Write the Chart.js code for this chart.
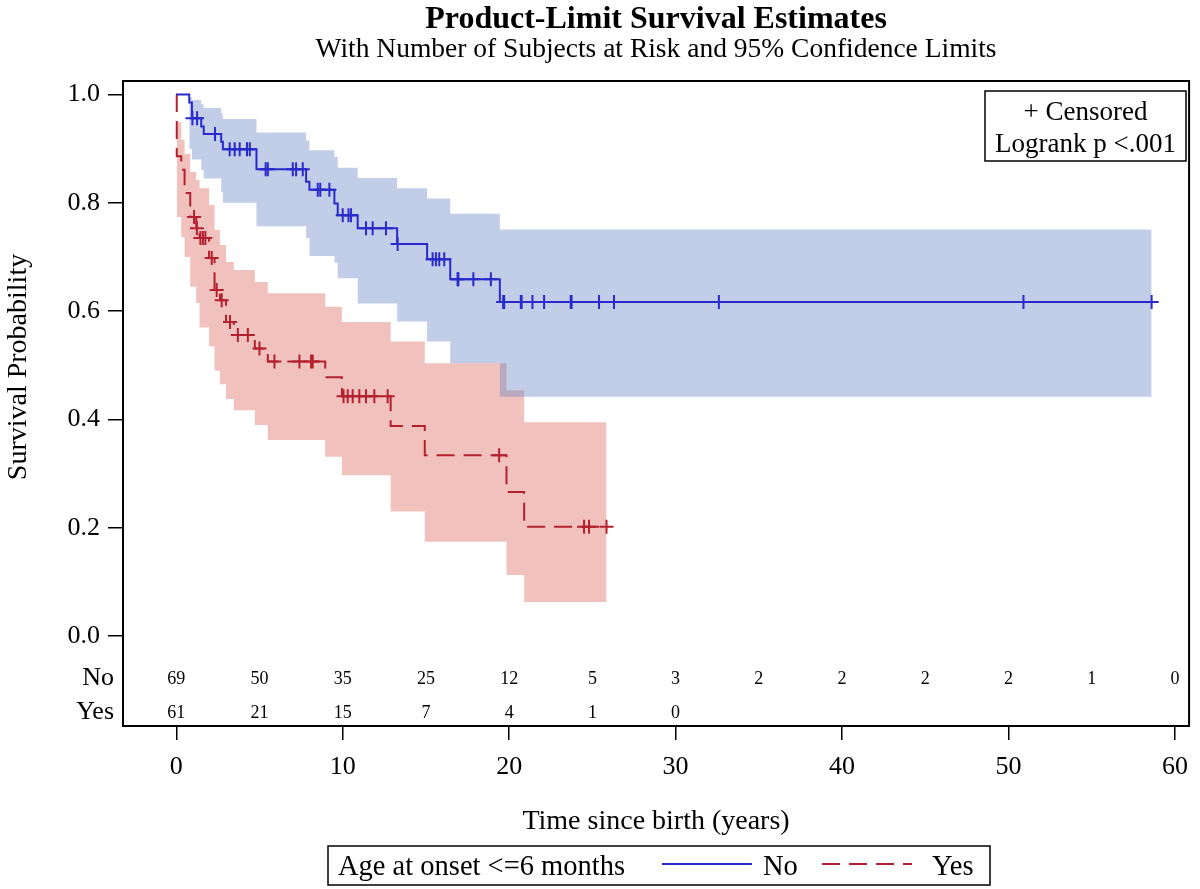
<!DOCTYPE html>
<html>
<head>
<meta charset="utf-8">
<title>Product-Limit Survival Estimates</title>
<script src="https://cdn.jsdelivr.net/npm/chart.js@4.4.1/dist/chart.umd.min.js"></script>
<style>
  html, body { margin: 0; padding: 0; background: #fff; }
  #wrap { width: 1200px; height: 889px; }
</style>
</head>
<body>
<div id="wrap"><canvas id="km" width="1200" height="889"></canvas></div>
<script>
/* Kaplan-Meier: survival by age at onset, with 95% CL bands and risk table */

const SERIF = "'Liberation Serif', 'Times New Roman', serif";

const TITLE = 'Product-Limit Survival Estimates';
const SUBTITLE = 'With Number of Subjects at Risk and 95% Confidence Limits';
const X_TITLE = 'Time since birth (years)';
const Y_TITLE = 'Survival Probability';
const GROUP_TITLE = 'Age at onset <=6 months';
const GROUPS = ['No', 'Yes'];
const INSET = ['+ Censored', 'Logrank p <.001'];

const xTicks = [0, 10, 20, 30, 40, 50, 60];
const yTicks = [0, 0.2, 0.4, 0.6, 0.8, 1.0];

// group "No": event times, estimate, confidence limits
const noTimes = [0, 0.78, 0.94, 1.5, 1.65, 2.7, 2.8, 4.82, 7.8, 8.0, 9.5, 9.7, 10.9, 13.27, 15.07, 16.46, 19.44];
const noSurv  = [1, 0.9855, 0.956, 0.941, 0.927, 0.913, 0.899, 0.862, 0.839, 0.824, 0.799, 0.777, 0.753, 0.724, 0.696, 0.659, 0.617];
const noUpper = [1, 0.995, 0.99, 0.982, 0.975, 0.965, 0.955, 0.93, 0.915, 0.897, 0.885, 0.865, 0.846, 0.827, 0.808, 0.78, 0.751];
const noLower = [1, 0.90, 0.88, 0.86, 0.845, 0.82, 0.80, 0.757, 0.735, 0.702, 0.69, 0.661, 0.614, 0.581, 0.544, 0.504, 0.442];
const noEnd = 58.6;
const noCensored = [0.97, 1.25, 2.33, 3.21, 3.51, 3.81, 4.25, 4.42, 5.37, 5.5, 7.0, 7.2, 7.6, 8.5, 8.65, 9.2,
  10.0, 10.35, 10.5, 11.4, 11.8, 12.6, 13.3, 15.4, 15.6, 15.8, 16.1, 16.9, 16.95, 17.85, 18.9,
  19.64, 19.7, 20.7, 20.75, 21.4, 22.1, 23.7, 23.75, 25.4, 26.3, 32.6, 50.9, 58.6];

// group "Yes"
const yesTimes = [0, 0.03, 0.3, 0.5, 0.84, 1.2, 1.4, 1.97, 2.3, 2.63, 2.99, 3.46, 4.72, 5.5, 8.95, 9.95, 12.88, 14.93, 19.84, 20.9];
const yesSurv  = [1, 0.886, 0.861, 0.818, 0.774, 0.753, 0.735, 0.698, 0.639, 0.62, 0.58, 0.556, 0.531, 0.507, 0.478, 0.443, 0.388, 0.334, 0.266, 0.202];
const yesUpper = [1, 0.949, 0.916, 0.89, 0.857, 0.842, 0.827, 0.796, 0.75, 0.722, 0.691, 0.676, 0.654, 0.633, 0.608, 0.58, 0.544, 0.504, 0.454, 0.395];
const yesLower = [1, 0.774, 0.737, 0.70, 0.645, 0.615, 0.57, 0.535, 0.49, 0.465, 0.438, 0.417, 0.39, 0.362, 0.331, 0.297, 0.23, 0.174, 0.113, 0.063];
const yesEnd = 25.85;
const yesCensored = [1.07, 1.24, 1.45, 1.6, 1.75, 2.13, 2.43, 2.73, 3.23, 3.7, 4.3, 5.0, 5.9, 7.4, 8.1, 8.2,
  10.05, 10.3, 10.6, 11.0, 11.4, 11.9, 12.7, 19.4, 24.5, 24.8, 25.85];

// number at risk
const riskTimes = [0, 5, 10, 15, 20, 25, 30, 35, 40, 45, 50, 55, 60];
const riskNo  = [69, 50, 35, 25, 12, 5, 3, 2, 2, 2, 2, 1, 0];
const riskYes = [61, 21, 15, 7, 4, 1, 0];

const BLUE = '#2a2acb';
const RED = '#b3202f';
const BLUE_BAND = 'rgba(102,133,194,0.4)';
const RED_BAND = 'rgba(220,100,90,0.4)';

function steps(times, vals, end) {
  const pts = times.map((t, i) => ({ x: t, y: vals[i] }));
  pts.push({ x: end, y: vals[vals.length - 1] });
  return pts;
}

// value of the step curve at time t (for the censor marks)
function atTime(times, vals, t) {
  let v = vals[0];
  for (let i = 0; i < times.length; i++) if (times[i] <= t) v = vals[i];
  return v;
}

function marks(cens, times, vals) {
  return cens.map(t => ({ x: t, y: atTime(times, vals, t) }));
}

const annotate = {
  id: 'annotate',
  afterDraw(chart) {
    const ctx = chart.ctx, ca = chart.chartArea, xs = chart.scales.x;
    const cx = (ca.left + ca.right) / 2;
    ctx.save();
    ctx.fillStyle = '#000';
    ctx.strokeStyle = '#000';

    // frame
    ctx.lineWidth = 2;
    ctx.strokeRect(ca.left, ca.top, ca.right - ca.left, ca.bottom - ca.top);

    // titles
    ctx.textAlign = 'center';
    ctx.textBaseline = 'alphabetic';
    ctx.font = 'bold 32px ' + SERIF;
    ctx.fillText(TITLE, cx, 28);
    ctx.font = '27.5px ' + SERIF;
    ctx.fillText(SUBTITLE, cx, 57);

    // axis titles
    ctx.font = '28px ' + SERIF;
    ctx.fillText(X_TITLE, cx, 829);
    ctx.save();
    ctx.translate(26, 367);
    ctx.rotate(-Math.PI / 2);
    ctx.fillText(Y_TITLE, 0, 0);
    ctx.restore();

    // risk table
    ctx.font = '26px ' + SERIF;
    ctx.textAlign = 'right';
    ctx.fillText(GROUPS[0], 114, 685);
    ctx.fillText(GROUPS[1], 114, 719);
    ctx.font = '18px ' + SERIF;
    ctx.textAlign = 'center';
    riskNo.forEach((n, i) => ctx.fillText(String(n), xs.getPixelForValue(riskTimes[i]), 684));
    riskYes.forEach((n, i) => ctx.fillText(String(n), xs.getPixelForValue(riskTimes[i]), 718));

    // inset box
    ctx.lineWidth = 1.5;
    ctx.strokeRect(985, 91, 201, 70);
    ctx.font = '27px ' + SERIF;
    ctx.fillText(INSET[0], 1085.5, 120);
    ctx.fillText(INSET[1], 1085.5, 152);

    // group legend
    ctx.strokeRect(328, 846, 662, 39);
    ctx.textAlign = 'left';
    ctx.font = '28.5px ' + SERIF;
    ctx.fillText(GROUP_TITLE, 338, 875);
    ctx.lineWidth = 2;
    ctx.strokeStyle = BLUE;
    ctx.beginPath(); ctx.moveTo(662, 864); ctx.lineTo(752, 864); ctx.stroke();
    ctx.fillText(GROUPS[0], 763, 875);
    ctx.strokeStyle = RED;
    ctx.setLineDash([18, 9]);
    ctx.beginPath(); ctx.moveTo(822, 864); ctx.lineTo(912, 864); ctx.stroke();
    ctx.setLineDash([]);
    ctx.fillText(GROUPS[1], 932, 875);

    ctx.restore();
  }
};

new Chart(document.getElementById('km'), {
  type: 'line',
  data: {
    datasets: [
      { label: 'No censored', data: marks(noCensored, noTimes, noSurv), showLine: false,
        pointStyle: 'cross', pointRadius: 7, pointBorderWidth: 2,
        pointBorderColor: BLUE, borderColor: BLUE },
      { label: 'Yes censored', data: marks(yesCensored, yesTimes, yesSurv), showLine: false,
        pointStyle: 'cross', pointRadius: 7, pointBorderWidth: 2,
        pointBorderColor: RED, borderColor: RED },
      { label: 'No', data: steps(noTimes, noSurv, noEnd), stepped: 'before',
        borderColor: BLUE, borderWidth: 2, pointRadius: 0, fill: false },
      { label: 'Yes', data: steps(yesTimes, yesSurv, yesEnd), stepped: 'before',
        borderColor: RED, borderWidth: 2, borderDash: [18, 9], pointRadius: 0, fill: false },
      { label: 'No upper', data: steps(noTimes.slice(1), noUpper.slice(1), noEnd), stepped: 'before',
        showLine: false, pointRadius: 0, backgroundColor: BLUE_BAND, fill: '+1' },
      { label: 'No lower', data: steps(noTimes.slice(1), noLower.slice(1), noEnd), stepped: 'before',
        showLine: false, pointRadius: 0, fill: false },
      { label: 'Yes upper', data: steps(yesTimes.slice(1), yesUpper.slice(1), yesEnd), stepped: 'before',
        showLine: false, pointRadius: 0, backgroundColor: RED_BAND, fill: '+1' },
      { label: 'Yes lower', data: steps(yesTimes.slice(1), yesLower.slice(1), yesEnd), stepped: 'before',
        showLine: false, pointRadius: 0, fill: false },
    ],
  },
  options: {
    responsive: false, animation: false, events: [],
    layout: { padding: { top: 81, right: 5, left: 0, bottom: 0 }, autoPadding: false },
    plugins: {
      legend: { display: false },
      title: { display: false },
      tooltip: { enabled: false },
      filler: { propagate: false, drawTime: 'beforeDatasetsDraw' },
    },
    scales: {
      x: {
        type: 'linear', min: -3.2, max: 60.85,
        afterBuildTicks: s => { s.ticks = xTicks.map(v => ({ value: v })); },
        afterFit: s => { s.height = 163; },
        border: { display: false },
        grid: { drawOnChartArea: false, drawTicks: true, tickLength: 14, color: '#000', lineWidth: 1.5 },
        ticks: { color: '#000', font: { family: SERIF, size: 26 }, padding: 12, maxRotation: 0, autoSkip: false },
      },
      y: {
        type: 'linear', min: -0.166, max: 1.025,
        afterBuildTicks: s => { s.ticks = yTicks.map(v => ({ value: v })); },
        afterFit: s => { s.width = 123; },
        border: { display: false },
        grid: { drawOnChartArea: false, drawTicks: true, tickLength: 15, color: '#000', lineWidth: 1.5 },
        ticks: { color: '#000', font: { family: SERIF, size: 26 }, padding: 8,
          callback: v => Number(v).toFixed(1) },
      },
    },
  },
  plugins: [annotate],
});
</script>
</body>
</html>
